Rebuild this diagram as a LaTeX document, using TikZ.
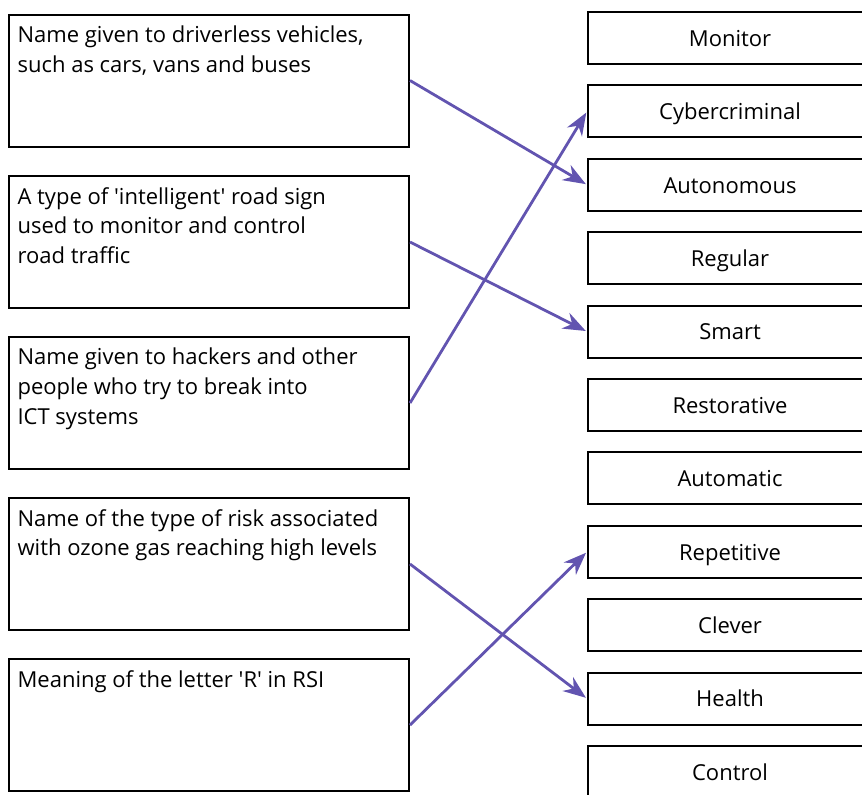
\documentclass[tikz,border=0pt]{standalone}
\usepackage{fontspec}
\setmainfont{Open Sans}
\usetikzlibrary{arrows.meta}
\definecolor{linkcol}{RGB}{98,84,176}
\tikzset{
  qbox/.style={draw=black, line width=1.5pt, rectangle, minimum width=400*0.75pt, minimum height=132*0.75pt, inner sep=0pt},
  qtext/.style={anchor=north west, align=left, inner sep=0pt, font=\fontsize{16.5pt}{22.2pt}\selectfont},
  abox/.style={draw=black, line width=1.5pt, rectangle, minimum width=284*0.75pt, minimum height=52*0.75pt, inner sep=0pt},
  alabel/.style={inner sep=0pt, font=\fontsize{16.5pt}{18pt}\selectfont},
  link/.style={draw=linkcol, line width=2.1pt, -{Stealth[length=17pt, width=13pt, inset=5.5pt]}, shorten >=1pt}
}
\begin{document}
\begin{tikzpicture}[x=0.75pt, y=-0.75pt]
\useasboundingbox (0,0) rectangle (862,794);
% question boxes on the left
\foreach \n/\y in {1/80.5, 2/242, 3/403, 4/564, 5/725}
  \node[qbox] (l\n) at (209,\y) {};
\node[qtext] (t1) at ([xshift=7pt, yshift=-9pt]l1.north west) {Name given to driverless vehicles,\\such as cars, vans and buses};
\node[qtext] (t2) at ([xshift=7pt, yshift=-9pt]l2.north west) {A type of \textquotesingle intelligent\textquotesingle{} road sign\\used to monitor and control\\road traffic};
\node[qtext] (t3) at ([xshift=7pt, yshift=-9pt]l3.north west) {Name given to hackers and other\\people who try to break into\\ICT systems};
\node[qtext] (t4) at ([xshift=7pt, yshift=-9pt]l4.north west) {Name of the type of risk associated\\with ozone gas reaching high levels};
\node[qtext] (t5) at ([xshift=7pt, yshift=-9pt]l5.north west) {Meaning of the letter \textquotesingle R\textquotesingle{} in RSI};
% answer boxes on the right, each word set on a common baseline
\foreach \n/\w [count=\i from 0] in {monitor/Monitor, cyber/Cybercriminal, auton/Autonomous, regular/Regular, smart/Smart, restor/Restorative, automatic/Automatic, repet/Repetitive, clever/Clever, health/Health, control/Control}{
  \node[abox] (\n) at (730, 38+73.4*\i) {};
  \node[alabel, anchor=base] (\n-w) at ([yshift=-6.2pt]\n.center) {\w};
}
% connectors
\draw[link] (l1.east) -- (auton.west);
\draw[link] (l2.east) -- (smart.west);
\draw[link] (l3.east) -- (cyber.west);
\draw[link] (l4.east) -- (health.west);
\draw[link] (l5.east) -- (repet.west);
\end{tikzpicture}
\end{document}
